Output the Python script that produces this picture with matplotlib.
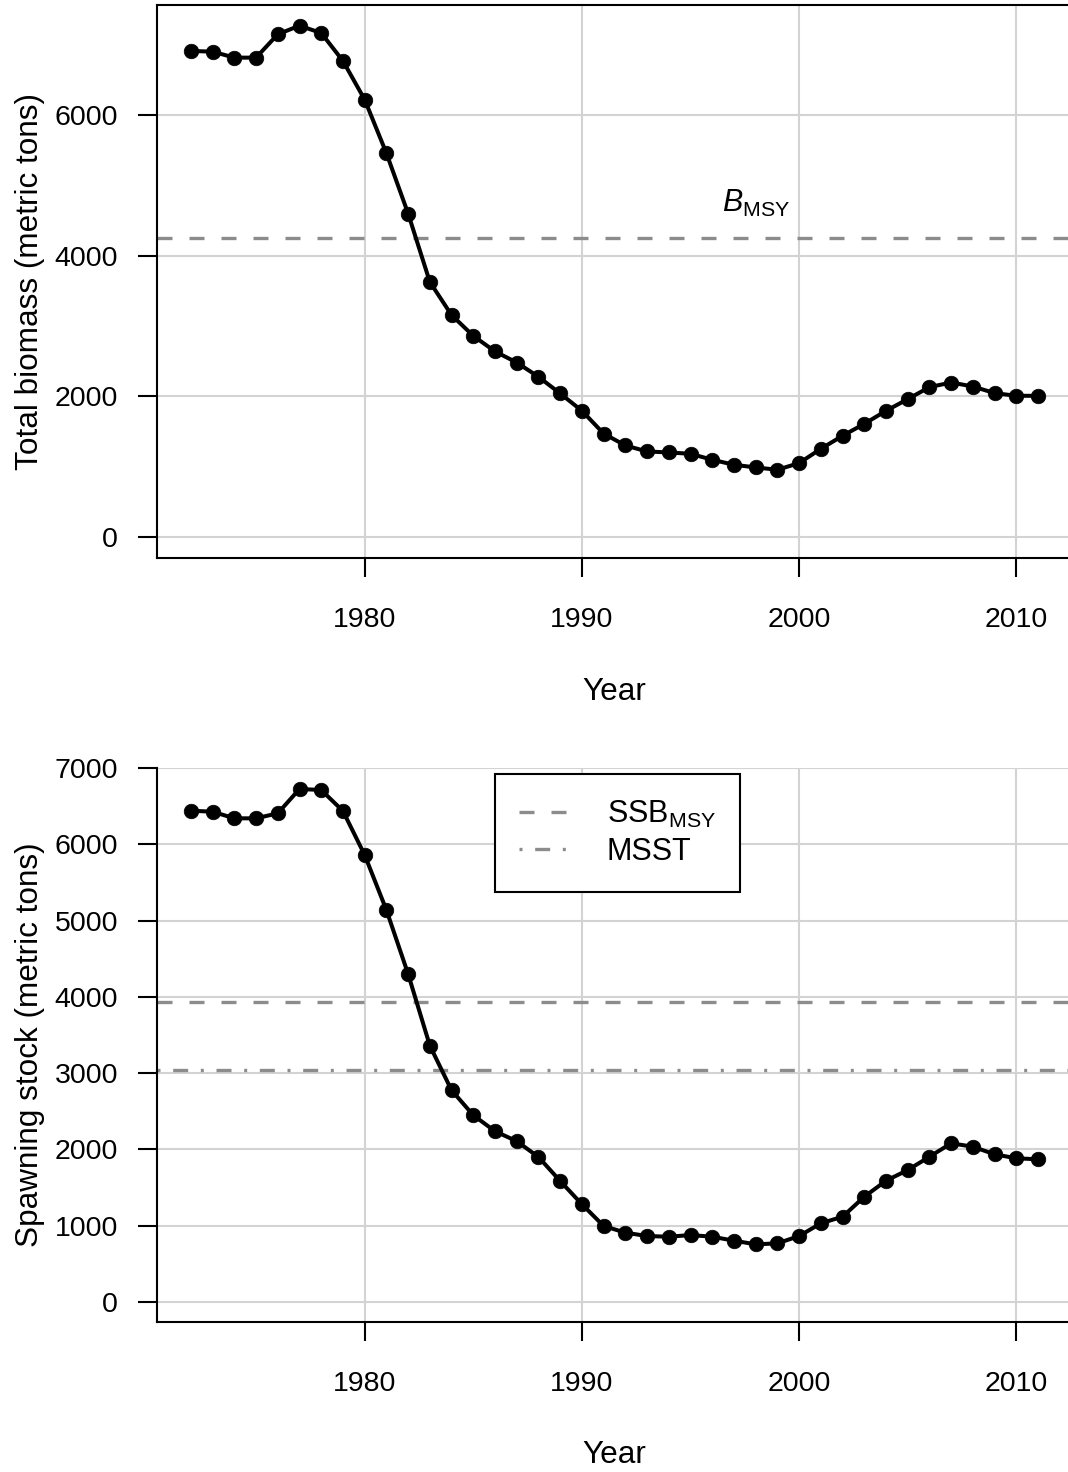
import numpy as np
import matplotlib
matplotlib.use("Agg")
import matplotlib.pyplot as plt

plt.rcParams['font.family'] = ['Liberation Sans', 'DejaVu Sans']
plt.rcParams['mathtext.fontset'] = 'custom'
plt.rcParams['mathtext.rm'] = 'Liberation Sans'
plt.rcParams['mathtext.it'] = 'Liberation Sans:italic'

# data
years = np.arange(1972, 2012)
total_biomass = [6908, 6898, 6813, 6813, 7145, 7267, 7163, 6766, 6216, 5455,
                 4597, 3625, 3154, 2859, 2637, 2480, 2277, 2040, 1794, 1470,
                 1301, 1216, 1202, 1183, 1098, 1027, 989, 956, 1051, 1254,
                 1439, 1609, 1794, 1960, 2131, 2196, 2139, 2045, 2007, 2007]
spawning_stock = [6443, 6430, 6343, 6343, 6409, 6728, 6715, 6439, 5862, 5140,
                  4300, 3360, 2775, 2447, 2237, 2106, 1899, 1584, 1279, 994,
                  906, 862, 853, 875, 853, 801, 753, 766, 862, 1029,
                  1116, 1378, 1588, 1728, 1903, 2079, 2034, 1934, 1882, 1869]
b_msy = 4250
ssb_msy = 3930
msst = 3045

x_ticks = [1980, 1990, 2000, 2010]
top_yticks = [0, 2000, 4000, 6000]
bottom_yticks = [0, 1000, 2000, 3000, 4000, 5000, 6000, 7000]

W, H = 1068, 1472
fig = plt.figure(figsize=(W / 100, H / 100), dpi=100)

FS = 20.5      # tick labels
FS_LAB = 22.7  # axis labels
FS_LEG = 22
grey_ref = '#8c8c8c'
dashed = (0, (4.5, 5.1))
dotdash = (0, (0.9, 3.8, 4.5, 3.8))


def px_axes(left, top, right, bottom):
    return fig.add_axes([left / W, 1 - bottom / H, (right - left) / W, (bottom - top) / H])


def style_axes(ax, yticks):
    ax.set_xticks(x_ticks)
    ax.set_yticks(yticks)
    ax.grid(True, color='#d3d3d3', lw=1.5, zorder=0)
    ax.set_axisbelow(True)
    for s in ['left', 'bottom', 'top', 'right']:
        ax.spines[s].set_linewidth(1.5)
        ax.spines[s].set_color('black')
    ax.spines['right'].set_visible(False)
    ax.tick_params(direction='out', length=14, width=1.5, labelsize=FS, colors='black')
    ax.tick_params(axis='x', pad=21)
    ax.tick_params(axis='y', pad=14)


# top panel: total biomass
ax1 = px_axes(157, 5, 1072, 558)
ax1.plot(years, total_biomass, color='black', lw=2.9, marker='o', ms=10.5, mew=0.5, zorder=4)
ax1.axhline(b_msy, color=grey_ref, lw=2.4, linestyle=dashed, zorder=2)
ax1.text(1998.0, 4620, r'$\mathit{B}_{\mathrm{MSY}}$', fontsize=FS_LEG, ha='center', va='baseline')
ax1.set_xlim(1970.44, 2012.56)
ax1.set_ylim(-298, 7561)
style_axes(ax1, top_yticks)
ax1.set_xlabel('Year', fontsize=FS_LAB)
ax1.xaxis.label.set_verticalalignment('center')
ax1.xaxis.set_label_coords(0.5, -(692 - 558) / 553)
ax1.set_ylabel('Total biomass (metric tons)', fontsize=FS_LAB)
ax1.yaxis.label.set_verticalalignment('center')
ax1.yaxis.set_label_coords((30 - 157) / 915, 0.5)

# bottom panel: spawning stock
ax2 = px_axes(157, 767.5, 1072, 1322)
ax2.plot(years, spawning_stock, color='black', lw=2.9, marker='o', ms=10.5, mew=0.5, zorder=4)
ax2.axhline(ssb_msy, color=grey_ref, lw=2.4, linestyle=dashed, zorder=2, label=r'SSB$_{\mathrm{MSY}}$')
ax2.axhline(msst, color=grey_ref, lw=2.4, linestyle=dotdash, zorder=2, label='MSST')
ax2.set_xlim(1970.44, 2012.56)
ax2.set_ylim(-266, 7010)
style_axes(ax2, bottom_yticks)
ax2.spines['top'].set_visible(False)
ax2.set_xlabel('Year', fontsize=FS_LAB)
ax2.xaxis.label.set_verticalalignment('center')
ax2.xaxis.set_label_coords(0.5, -(1455 - 1322) / 554.5)
ax2.set_ylabel('Spawning stock (metric tons)', fontsize=FS_LAB)
ax2.yaxis.label.set_verticalalignment('center')
ax2.yaxis.set_label_coords((30 - 157) / 915, 0.5)

leg = ax2.legend(loc='upper left', bbox_to_anchor=((495 - 157) / 915, (1322 - 774) / 554.5),
                 fontsize=FS_LEG, frameon=True, fancybox=False, edgecolor='black', framealpha=1,
                 handlelength=1.55, handletextpad=1.3, borderpad=0.8, labelspacing=0.25,
                 borderaxespad=0)
leg.get_frame().set_linewidth(1.5)

fig.savefig('out.png', dpi=100)
